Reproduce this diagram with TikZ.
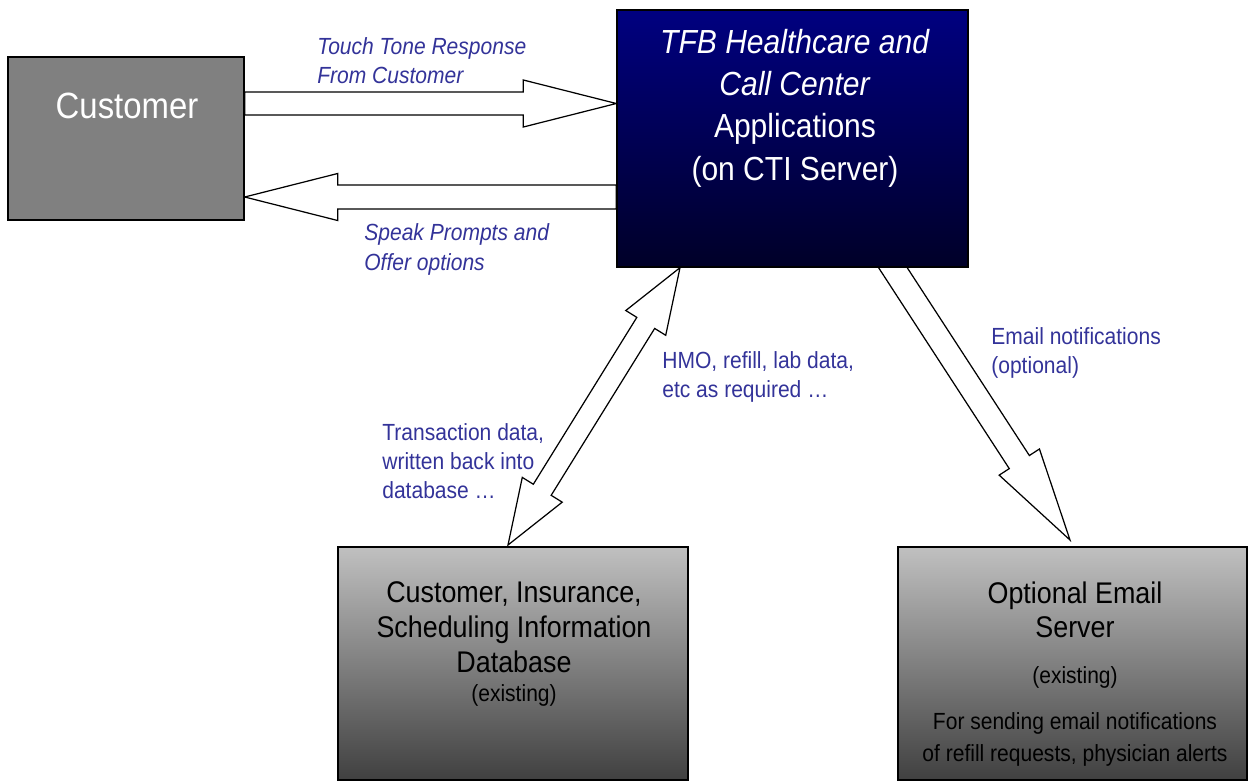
\documentclass[tikz,border=0pt]{standalone}
\usepackage{fontspec}
\setmainfont{Liberation Sans}[FakeStretch=0.9]
\usetikzlibrary{calc, positioning}

\definecolor{lblblue}{RGB}{51,51,153}
\definecolor{custgray}{RGB}{128,128,128}
\definecolor{apptop}{RGB}{0,0,128}
\definecolor{appbot}{RGB}{0,0,40}
\definecolor{dbtop}{RGB}{192,192,192}
\definecolor{dbbot}{RGB}{64,64,64}

\pgfdeclarelayer{bg}
\pgfsetlayers{bg,main}

% block arrow: from, to, shaft half width, head half width, head length
\newcommand{\fatarrow}[5]{%
  \coordinate (fa-h) at ($(#2)!#5!(#1)$);
  \draw[blk] ($(#1)!#3!90:(#2)$) -- ($(fa-h)!#3!90:(#2)$) -- ($(fa-h)!#4!90:(#2)$)
    -- (#2) -- ($(fa-h)!#4!-90:(#2)$) -- ($(fa-h)!#3!-90:(#2)$) -- ($(#1)!#3!-90:(#2)$) -- cycle;
}
% same with a head at both ends
\newcommand{\twinarrow}[5]{%
  \coordinate (ta-a) at ($(#1)!#5!(#2)$);
  \coordinate (ta-b) at ($(#2)!#5!(#1)$);
  \draw[blk] (#1) -- ($(ta-a)!#4!90:(#2)$) -- ($(ta-a)!#3!90:(#2)$) -- ($(ta-b)!#3!90:(#2)$)
    -- ($(ta-b)!#4!90:(#2)$) -- (#2) -- ($(ta-b)!#4!-90:(#2)$) -- ($(ta-b)!#3!-90:(#2)$)
    -- ($(ta-a)!#3!-90:(#2)$) -- ($(ta-a)!#4!-90:(#2)$) -- cycle;
}

\begin{document}
\begin{tikzpicture}[x=0.02cm, y=-0.02cm,
  box/.style={draw, line width=0.8pt, inner sep=0pt},
  blk/.style={draw, line width=0.7pt, fill=white, line join=miter},
  lbl/.style={text=lblblue, align=left, anchor=base west, inner sep=0pt,
    font=\fontsize{13.3}{16.5}\selectfont},
  boxtxt/.style={align=center, anchor=base, inner sep=0pt}]
  \useasboundingbox (0,0) rectangle (1249,782);

  % boxes
  \node[box, fill=custgray, minimum width=4.72cm, minimum height=3.26cm] (cust) at (126,138.5) {};
  \node[box, top color=apptop, bottom color=appbot, minimum width=7.02cm, minimum height=5.14cm] (app) at (792.5,138.5) {};
  \node[box, top color=dbtop, bottom color=dbbot, minimum width=7cm, minimum height=4.66cm] (db) at (513,663.5) {};
  \node[box, top color=dbtop, bottom color=dbbot, minimum width=6.98cm, minimum height=4.66cm] (mail) at (1072.5,663.5) {};

  % box texts (anchored on the last line)
  \node[boxtxt, text=white, font=\fontsize{20.8}{25}\selectfont] (cust-txt) at (127,118) {Customer};
  \node[boxtxt, text=white, font=\fontsize{19}{24}\selectfont] (app-txt) at (795,180)
    {\textit{TFB Healthcare and}\\ \textit{Call Center}\\ Applications\\ (on CTI Server)};
  \node[boxtxt, font=\fontsize{17}{19.8}\selectfont] (db-txt) at (514,672)
    {Customer, Insurance,\\ Scheduling Information\\ Database};
  \node[boxtxt, font=\fontsize{13.3}{16}\selectfont] (db-note) at (514,701) {(existing)};
  \node[boxtxt, font=\fontsize{17}{19.3}\selectfont] (mail-txt) at (1075,637) {Optional Email\\ Server};
  \node[boxtxt, font=\fontsize{13.3}{16}\selectfont] (mail-note) at (1075,683) {(existing)};
  \node[boxtxt, font=\fontsize{13.3}{18}\selectfont] (mail-use) at (1075,761)
    {For sending email notifications\\ of refill requests, physician alerts};

  % arrow ends
  \coordinate (tt-s) at (cust.east |- 0,103.5);
  \coordinate (tt-t) at (app.west |- 0,103.5);
  \coordinate (sp-s) at (app.west |- 0,197);
  \coordinate (sp-t) at (cust.east |- 0,197);
  \coordinate (db-a) at (680,0 |- app.south);
  \coordinate (db-b) at (508,545);
  \coordinate (mail-s) at (884,254);
  \coordinate (mail-t) at (1070,540);

  \begin{pgfonlayer}{bg}
    \fatarrow{tt-s}{tt-t}{0.23cm}{0.47cm}{1.86cm}
    \fatarrow{sp-s}{sp-t}{0.24cm}{0.47cm}{1.86cm}
    \twinarrow{db-b}{db-a}{0.21cm}{0.47cm}{1.3cm}
    \fatarrow{mail-s}{mail-t}{0.24cm}{0.48cm}{1.86cm}
  \end{pgfonlayer}

  % arrow labels (anchored on the last line)
  \node[lbl, font=\fontsize{13.3}{16}\selectfont\itshape] (tt-lbl) at (317,83) {Touch Tone Response\\ From Customer};
  \node[lbl, font=\fontsize{13.3}{17}\selectfont\itshape] (sp-lbl) at (364,270) {Speak Prompts and\\ Offer options};
  \node[lbl] (hmo-lbl) at (662,397) {HMO, refill, lab data,\\ etc as required \dots};
  \node[lbl] (tr-lbl) at (382,498) {Transaction data,\\ written back into\\ database \dots};
  \node[lbl] (em-lbl) at (991,373) {Email notifications\\ (optional)};
\end{tikzpicture}
\end{document}
